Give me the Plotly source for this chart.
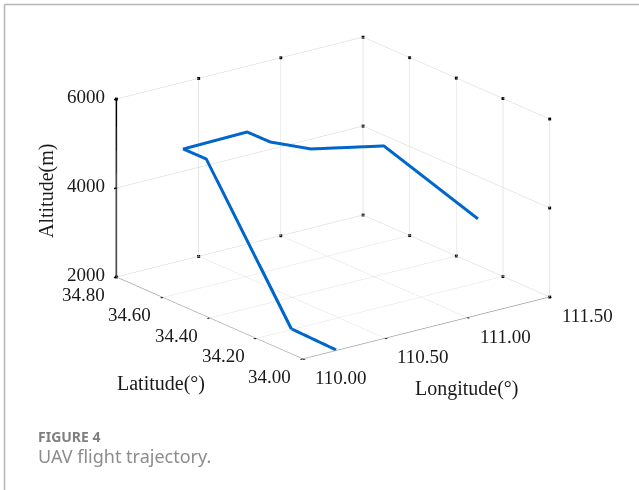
import math
import plotly.graph_objects as go

lon = [110.207, 110.22, 110.368, 110.367, 110.764, 110.765, 110.861, 111.17, 111.44]
lat = [34.004, 34.205, 34.674, 34.772, 34.778, 34.68, 34.573, 34.478, 34.265]
alt = [2000, 2000, 4600, 4600, 4600, 4600, 4600, 4600, 3200]

lon_ticks = [110.0, 110.5, 111.0, 111.5]
lat_ticks = [34.0, 34.2, 34.4, 34.6, 34.8]
alt_ticks = [2000, 4000, 6000]

SERIF = "Liberation Serif"
EYE_NORM = 2.0
SCALE = 1.83
el = math.radians(19.4)
az = math.radians(52.9)
eye = dict(x=-EYE_NORM * math.cos(el) * math.cos(az),
           y=-EYE_NORM * math.cos(el) * math.sin(az),
           z=EYE_NORM * math.sin(el))

fig = go.Figure()
fig.add_trace(go.Scatter3d(x=lon, y=lat, z=alt, mode="lines",
                           line=dict(color="#0066cc", width=6), showlegend=False, hoverinfo="skip"))

# small tick dots along the back walls
wx, wy, wz = [], [], []
for v in lon_ticks:
    wx += [v, v]; wy += [lat_ticks[-1]] * 2; wz += [alt_ticks[0], alt_ticks[-1]]
for v in lat_ticks:
    wx += [lon_ticks[-1]] * 2; wy += [v, v]; wz += [alt_ticks[0], alt_ticks[-1]]
for v in alt_ticks:
    wx += [lon_ticks[-1]]; wy += [lat_ticks[-1]]; wz += [v]
    wx += [lon_ticks[-1]]; wy += [lat_ticks[0]]; wz += [v]
fig.add_trace(go.Scatter3d(x=wx, y=wy, z=wz, mode="markers",
                           marker=dict(color="black", size=1.5, symbol="square", line=dict(width=0)),
                           showlegend=False, hoverinfo="skip"))

def axis(rng, ticks, color="#a0a0a0", lw=1.5):
    return dict(range=rng, tickvals=ticks, showticklabels=False, title=dict(text=""),
                showgrid=True, gridcolor="#d2d2d2", gridwidth=1, zeroline=False,
                showline=True, linecolor=color, linewidth=lw, ticks="outside", ticklen=3,
                tickcolor="black", tickwidth=3, showbackground=False, showspikes=False)

ann = []
def lab(x, y, z, text, xs, ys):
    ann.append(dict(x=x, y=y, z=z, text=text, showarrow=False, xshift=xs, yshift=ys,
                    font=dict(family=SERIF, size=19, color="#1a1a1a")))
for v, s in zip(lon_ticks, ["110.00", "110.50", "111.00", "111.50"]):
    lab(v, lat_ticks[0], alt_ticks[0], s, 38, -18)
for v, s in zip(lat_ticks, ["34.00", "34.20", "34.40", "34.60", "34.80"]):
    lab(lon_ticks[0], v, alt_ticks[0], s, -33, -17)
for v, s in zip(alt_ticks, ["2000", "4000", "6000"]):
    lab(lon_ticks[0], lat_ticks[-1], v, s, -30, 3)

title_font = dict(family=SERIF, size=20, color="#1a1a1a")
common = dict(xref="paper", yref="paper", showarrow=False, yanchor="middle")
fig.update_layout(
    width=639, height=490, margin=dict(l=0, r=0, t=0, b=0),
    paper_bgcolor="white", showlegend=False,
    scene=dict(
        domain=dict(x=[0.042, 1.0], y=[0.25, 0.94]),
        xaxis=axis([lon_ticks[0], lon_ticks[-1]], lon_ticks),
        yaxis=axis([lat_ticks[0], lat_ticks[-1]], lat_ticks),
        zaxis=axis([alt_ticks[0], alt_ticks[-1]], alt_ticks, "black", 3),
        aspectmode="manual", aspectratio=dict(x=SCALE, y=SCALE, z=0.61 * SCALE),
        camera=dict(eye=eye, up=dict(x=0, y=0, z=1), center=dict(x=0, y=0, z=0),
                    projection=dict(type="orthographic")),
        annotations=ann,
    ),
    annotations=[
        dict(text="Altitude(m)", x=46/639, y=1-191/490, xanchor="center", textangle=-90, font=title_font, **common),
        dict(text="Latitude(°)", x=161/639, y=1-383/490, xanchor="center", font=title_font, **common),
        dict(text="Longitude(°)", x=467/639, y=1-388/490, xanchor="center", font=title_font, **common),
        dict(text="<b>FIGURE 4</b>", x=36/639, y=1-436/490, xanchor="left",
             font=dict(family="Noto Sans", size=14, color="#7f7f7f"), **common),
        dict(text="UAV flight trajectory.", x=36/639, y=1-456/490, xanchor="left",
             font=dict(family="Noto Sans", size=18, color="#8c8c8c"), **common),
    ],
    shapes=[
        dict(type="line", xref="paper", yref="paper", x0=4.5/639, x1=1, y0=1-4.5/490, y1=1-4.5/490,
             line=dict(color="#b5b5b5", width=1.5)),
        dict(type="line", xref="paper", yref="paper", x0=4.5/639, x1=4.5/639, y0=0, y1=1-4.5/490,
             line=dict(color="#b5b5b5", width=1.5)),
    ],
)
fig.write_html("out.html", config=dict(displayModeBar=False),
               post_script="document.body.style.margin='0';document.body.style.overflow='hidden';")
